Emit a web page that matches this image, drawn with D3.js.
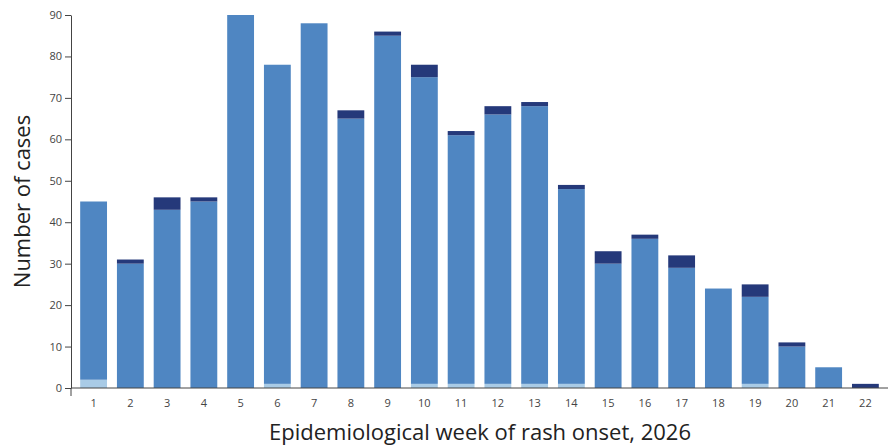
<!DOCTYPE html>
<html><head><meta charset="utf-8">
<script src="https://cdn.jsdelivr.net/npm/d3@7"></script>
<style>body{margin:0;background:#fff}text{font-family:"Open Sans",sans-serif}</style>
</head><body><svg id="c" width="892" height="446"></svg>
<script>
const weeks = ["1","2","3","4","5","6","7","8","9","10","11","12","13","14","15","16","17","18","19","20","21","22"];
const lightVals = [2,0,0,0,0,1,0,0,0,1,1,1,1,1,0,0,0,0,1,0,0,0];
const midVals   = [43,30,43,45,90,77,88,65,85,74,60,65,67,47,30,36,29,24,21,10,5,0];
const darkVals  = [0,1,3,1,0,0,0,2,1,3,1,2,1,1,3,1,3,0,3,1,0,1];
const keys = ["light","mid","dark"];
const colors = {light:"#a9cbe6", mid:"#4f86c2", dark:"#25397a"};
const yTicks = [0,10,20,30,40,50,60,70,80,90];

const rows = weeks.map((w,i) => ({week:w, light:lightVals[i], mid:midVals[i], dark:darkVals[i]}));
const m = {l:71, r:4, t:15, b:58};
const W = 892, H = 446;
const svg = d3.select("#c");
const x = d3.scaleBand().domain(weeks).range([m.l, W - m.r]).paddingInner(0.27).paddingOuter(0.25);
const y = d3.scaleLinear().domain([0,90]).range([H - m.b, m.t]);

const stack = d3.stack().keys(keys)(rows);
svg.append("g").selectAll("g").data(stack).join("g")
  .attr("fill", d => colors[d.key])
  .selectAll("rect").data(d => d).join("rect")
  .attr("x", d => x(d.data.week))
  .attr("width", x.bandwidth())
  .attr("y", d => y(d[1]))
  .attr("height", d => y(d[0]) - y(d[1]));

const xa = svg.append("g").attr("transform", `translate(0,${H - m.b})`)
  .call(d3.axisBottom(x).tickSizeInner(0).tickSizeOuter(8).tickPadding(11));
const ya = svg.append("g").attr("transform", `translate(${m.l},0)`)
  .call(d3.axisLeft(y).tickValues(yTicks).tickSizeOuter(0));
[xa, ya].forEach(a => {
  a.selectAll("text").attr("font-size", 11).attr("fill", "#444").style("font-family", "'Open Sans',sans-serif");
  a.selectAll("line,path").attr("stroke", "#444");
});
xa.select(".domain").attr("d", `M${m.l},8V0H${W - m.r}`);

svg.append("text").attr("x", 480).attr("y", 440).attr("text-anchor", "middle")
  .attr("font-size", 22).attr("fill", "#222").text("Epidemiological week of rash onset, 2026");
svg.append("text").attr("transform", `translate(30,${(m.t + H - m.b)/2}) rotate(-90)`)
  .attr("text-anchor", "middle").attr("font-size", 22).attr("fill", "#222").text("Number of cases");
</script></body></html>
